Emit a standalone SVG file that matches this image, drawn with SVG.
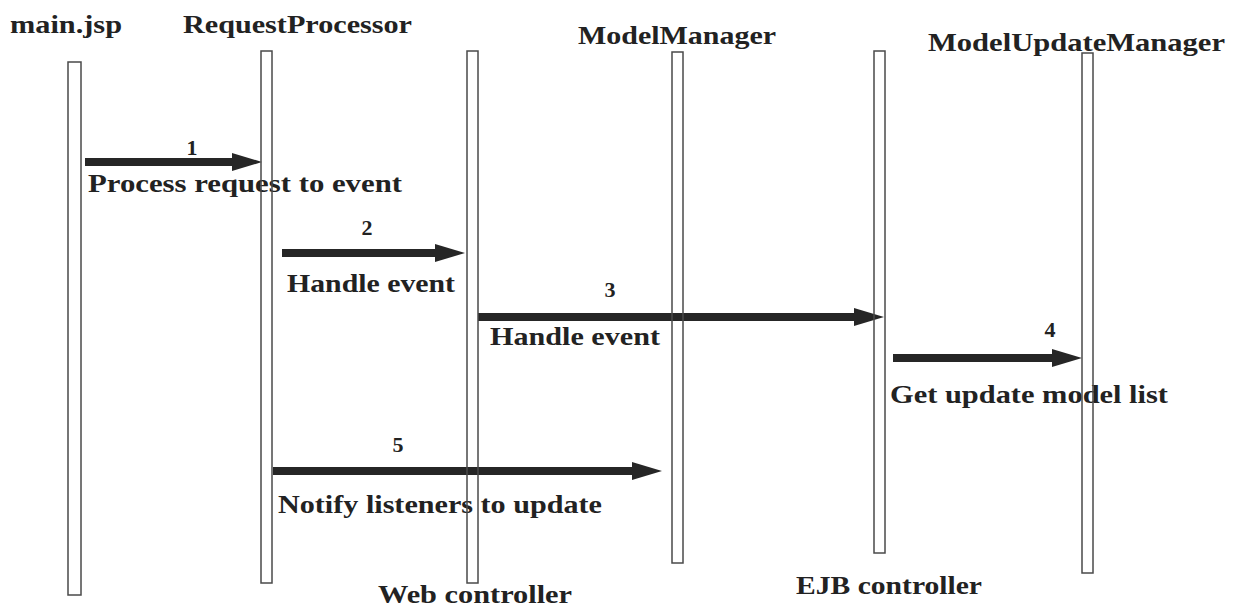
<svg xmlns="http://www.w3.org/2000/svg" width="1239" height="607" viewBox="0 0 1239 607">
<style>
  text { font-family: "Liberation Serif", "Times New Roman", serif; font-weight: bold; fill: #222; }
  .t { font-size: 26px; }
  .n { font-size: 22px; text-anchor: middle; }
  .life { fill: none; stroke: #4a4a4a; stroke-width: 1.5; }
  .msg { stroke: #262626; stroke-width: 8; fill: none; }
</style>
<defs>
  <marker id="ah" markerUnits="userSpaceOnUse" markerWidth="32" markerHeight="20" refX="10" refY="9" orient="auto" viewBox="0 0 32 20" overflow="visible">
    <path d="M0,0 L30,9 L0,18 Z" fill="#262626"/>
  </marker>
</defs>
<rect width="1239" height="607" fill="#fff"/>
<g id="connectors">
  <line class="msg" x1="85" y1="162" x2="242" y2="162" marker-end="url(#ah)"/>
  <line class="msg" x1="282" y1="253" x2="445" y2="253" marker-end="url(#ah)"/>
  <line class="msg" x1="478" y1="317" x2="864" y2="317" marker-end="url(#ah)"/>
  <line class="msg" x1="893" y1="358" x2="1062" y2="358" marker-end="url(#ah)"/>
  <line class="msg" x1="273" y1="471" x2="642" y2="471" marker-end="url(#ah)"/>
  <text class="n" x="192" y="155">1</text>
  <text class="t" x="88" y="192" textLength="314" lengthAdjust="spacingAndGlyphs">Process request to event</text>
  <text class="n" x="367" y="235">2</text>
  <text class="t" x="287" y="292" textLength="168" lengthAdjust="spacingAndGlyphs">Handle event</text>
  <text class="n" x="610" y="297">3</text>
  <text class="t" x="490" y="345" textLength="170" lengthAdjust="spacingAndGlyphs">Handle event</text>
  <text class="n" x="1050" y="337">4</text>
  <text class="t" x="890" y="403" textLength="278" lengthAdjust="spacingAndGlyphs">Get update model list</text>
  <text class="n" x="398" y="452">5</text>
  <text class="t" x="278" y="513" textLength="324" lengthAdjust="spacingAndGlyphs">Notify listeners to update</text>
</g>
<g id="main-jsp">
  <text class="t" x="10" y="33" textLength="112" lengthAdjust="spacingAndGlyphs">main.jsp</text>
  <rect class="life" x="68" y="62" width="13" height="533"/>
</g>
<g id="request-processor">
  <text class="t" x="183" y="33" textLength="229" lengthAdjust="spacingAndGlyphs">RequestProcessor</text>
  <rect class="life" x="261" y="51" width="11" height="532"/>
</g>
<g id="web-controller">
  <rect class="life" x="467" y="51" width="11" height="532"/>
  <text class="t" x="378" y="603" textLength="194" lengthAdjust="spacingAndGlyphs">Web controller</text>
</g>
<g id="model-manager">
  <text class="t" x="578" y="44" textLength="198" lengthAdjust="spacingAndGlyphs">ModelManager</text>
  <rect class="life" x="672" y="52" width="11" height="511"/>
</g>
<g id="ejb-controller">
  <rect class="life" x="874" y="51" width="11" height="502"/>
  <text class="t" x="796" y="594" textLength="186" lengthAdjust="spacingAndGlyphs">EJB controller</text>
</g>
<g id="model-update-manager">
  <text class="t" x="928" y="51" textLength="297" lengthAdjust="spacingAndGlyphs">ModelUpdateManager</text>
  <rect class="life" x="1082" y="53" width="11" height="520"/>
</g>
</svg>
